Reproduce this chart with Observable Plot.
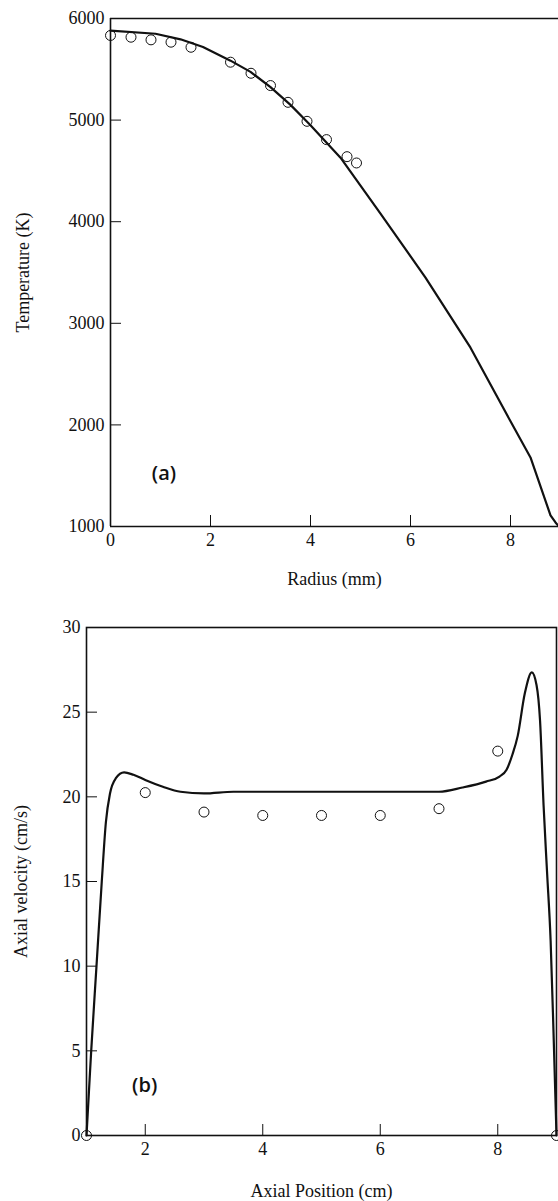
<!DOCTYPE html>
<html>
<head>
<meta charset="utf-8">
<script src="https://cdn.jsdelivr.net/npm/d3@7"></script>
<script src="https://cdn.jsdelivr.net/npm/@observablehq/plot@0.6"></script>
<style>
  html, body { margin: 0; padding: 0; background: #fff; }
  #chart svg { display: block; }
</style>
</head>
<body>
<div id="chart"></div>
<script>
// Panel (a): temperature vs radius
const radiusCurve = [0, 0.9, 1.4, 1.85, 2.4, 2.8, 3.2, 3.6, 4.0, 4.6, 5.4, 6.3, 7.2, 8.0, 8.4, 8.8, 8.9, 8.97];
const tempCurve   = [5880, 5850, 5795, 5720, 5585, 5475, 5325, 5150, 4950, 4630, 4080, 3450, 2760, 2035, 1680, 1110, 1040, 1000];
const radiusObs = [0, 0.41, 0.81, 1.21, 1.61, 2.4, 2.81, 3.2, 3.55, 3.93, 4.32, 4.73, 4.92];
const tempObs   = [5833, 5816, 5790, 5767, 5717, 5570, 5461, 5340, 5175, 4988, 4808, 4640, 4578];
const radiusTicks = [0, 2, 4, 6, 8];
const tempTicks = [1000, 2000, 3000, 4000, 5000, 6000];

// Panel (b): axial velocity vs axial position
const posCurve = [1.0, 1.04, 1.08, 1.17, 1.26, 1.33, 1.4, 1.5, 1.64, 1.8, 2.0, 2.3, 2.6, 3.0, 3.5, 4.5, 5.5, 6.5, 7.0, 7.4, 7.8, 8.03, 8.15, 8.25, 8.34, 8.46, 8.58, 8.66, 8.72, 8.78, 8.84, 8.9, 8.95, 9.0];
const velCurve = [0, 2.5, 5, 10, 15, 18.5, 20.2, 21.1, 21.45, 21.3, 21.0, 20.6, 20.3, 20.2, 20.3, 20.3, 20.3, 20.3, 20.3, 20.55, 20.9, 21.2, 21.6, 22.5, 23.6, 26.1, 27.35, 26.6, 24.5, 19.5, 15.5, 11.5, 6, 0];
const posObs = [1, 2, 3, 4, 5, 6, 7, 8, 9];
const velObs = [0, 20.25, 19.1, 18.9, 18.9, 18.9, 19.3, 22.7, 0];
const posTicks = [2, 4, 6, 8];
const velTicks = [0, 5, 10, 15, 20, 25, 30];

const panelLabels = [
  {x: 1.07, y: 1520, text: "(a)"},
  {x: 1.99, y: 2.96, text: "(b)"}
];

const ink = "#111";
const baseStyle = {fontFamily: "'Liberation Serif', 'DejaVu Serif', serif", fontSize: "18px", color: ink, background: "#fff", overflow: "visible"};
const fmt = d => String(d);
const labelFont = {fontFamily: "'Open Sans', 'DejaVu Sans', sans-serif", fontWeight: 600, fontSize: 20, fill: ink};

const curveA = radiusCurve.map((x, i) => ({x, y: tempCurve[i]}));
const obsA = radiusObs.map((x, i) => ({x, y: tempObs[i]}));
const curveB = posCurve.map((x, i) => ({x, y: velCurve[i]}));
const obsB = posObs.map((x, i) => ({x, y: velObs[i]}));

const plotA = Plot.plot({
  width: 558, height: 600,
  marginTop: 18, marginBottom: 74, marginLeft: 110, marginRight: 0,
  style: baseStyle,
  x: {domain: [0, 9], range: [110, 560], ticks: radiusTicks, tickFormat: fmt, tickSize: -11, tickPadding: 18,
      label: "Radius (mm)", labelAnchor: "center", labelOffset: 58, labelArrow: "none"},
  y: {domain: [1000, 6000], ticks: tempTicks, tickFormat: fmt, tickSize: -11, tickPadding: 17,
      label: "Temperature (K)", labelAnchor: "center", labelOffset: 94, labelArrow: "none"},
  marks: [
    Plot.ruleY([6000, 1000], {stroke: ink, strokeWidth: 1.6}),
    Plot.ruleX([0], {stroke: ink, strokeWidth: 1.6}),
    Plot.line(curveA, {x: "x", y: "y", stroke: ink, strokeWidth: 2.2}),
    Plot.dot(obsA, {x: "x", y: "y", r: 5, stroke: ink, strokeWidth: 1, fill: "none"}),
    Plot.text(panelLabels.slice(0, 1), {x: "x", y: "y", text: "text", ...labelFont})
  ]
});

const plotB = Plot.plot({
  width: 558, height: 601,
  marginTop: 27, marginBottom: 66, marginLeft: 86, marginRight: 2,
  style: baseStyle,
  x: {domain: [1, 9], range: [86, 556], ticks: posTicks, tickFormat: fmt, tickSize: -11, tickPadding: 18,
      label: "Axial Position (cm)", labelAnchor: "center", labelOffset: 61, labelArrow: "none"},
  y: {domain: [0, 30], ticks: velTicks, tickFormat: fmt, tickSize: -11, tickPadding: 17,
      label: "Axial velocity (cm/s)", labelAnchor: "center", labelOffset: 72, labelArrow: "none"},
  marks: [
    Plot.frame({stroke: ink, strokeWidth: 1.6}),
    Plot.line(curveB, {x: "x", y: "y", stroke: ink, strokeWidth: 2.2, curve: "monotone-x"}),
    Plot.dot(obsB, {x: "x", y: "y", r: 5, stroke: ink, strokeWidth: 1, fill: "none"}),
    Plot.text(panelLabels.slice(1), {x: "x", y: "y", text: "text", ...labelFont})
  ]
});

document.getElementById("chart").append(plotA, plotB);
</script>
</body>
</html>
